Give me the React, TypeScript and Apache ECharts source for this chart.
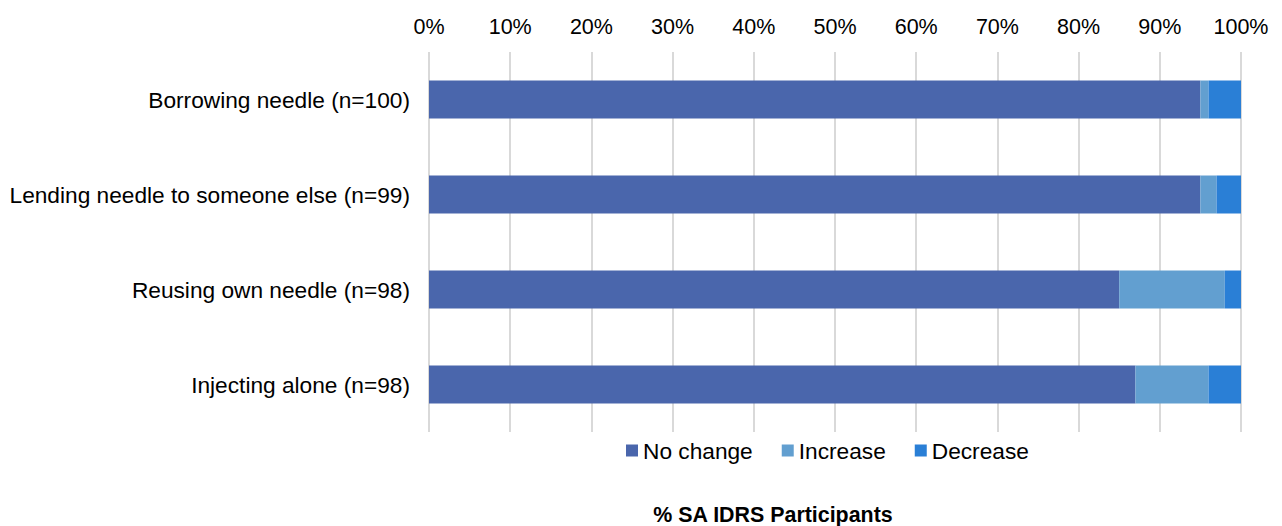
import React, { useEffect, useRef } from "react";
import * as echarts from "echarts";

const categories = [
  "Borrowing needle (n=100)",
  "Lending needle to someone else (n=99)",
  "Reusing own needle (n=98)",
  "Injecting alone (n=98)",
];
const noChange = [95, 95, 85, 87];
const increase = [1, 2, 13, 9];
const decrease = [4, 3, 2, 4];
const seriesNames = ["No change", "Increase", "Decrease"];
const colors = ["#4a66ac", "#629fd0", "#2a7fd6"];

export default function App() {
  const ref = useRef<HTMLDivElement>(null);
  useEffect(() => {
    const chart = echarts.init(ref.current!, null, { renderer: "svg" });
    const font = "Liberation Sans, Arial, sans-serif";
    const values = [noChange, increase, decrease];
    chart.setOption({
      animation: false,
      textStyle: { fontFamily: font },
      grid: { left: 429, right: 41, top: 52, bottom: 94 },
      legend: {
        data: seriesNames,
        left: 626,
        top: 439,
        padding: 0,
        itemWidth: 12,
        itemHeight: 12,
        itemGap: 29,
        icon: "rect",
        textStyle: { fontSize: 22.7, color: "#000", fontFamily: font },
      },
      xAxis: {
        type: "value",
        position: "top",
        min: 0,
        max: 100,
        interval: 10,
        axisLabel: { formatter: "{value}%", fontSize: 21.5, color: "#000", margin: 14 },
        axisLine: { show: false },
        axisTick: { show: false },
        splitLine: { show: true, lineStyle: { color: "#d9d9d9", width: 2 } },
      },
      yAxis: {
        type: "category",
        data: categories,
        inverse: true,
        axisLabel: { fontSize: 22.7, color: "#000", margin: 19 },
        axisLine: { show: false },
        axisTick: { show: false },
      },
      series: seriesNames.map((name, i) => ({
        name,
        type: "bar",
        stack: "total",
        data: values[i],
        barWidth: 38,
        itemStyle: { color: colors[i] },
      })),
      graphic: [
        {
          type: "text",
          x: 773,
          y: 515,
          style: {
            text: "% SA IDRS Participants",
            fontSize: 21.4,
            fontWeight: "bold",
            fill: "#000",
            fontFamily: font,
            textAlign: "center",
            textVerticalAlign: "middle",
          },
        },
      ],
    });
    return () => chart.dispose();
  }, []);
  return <div ref={ref} style={{ width: 1282, height: 526, position: "absolute", left: 0, top: 0 }} />;
}
